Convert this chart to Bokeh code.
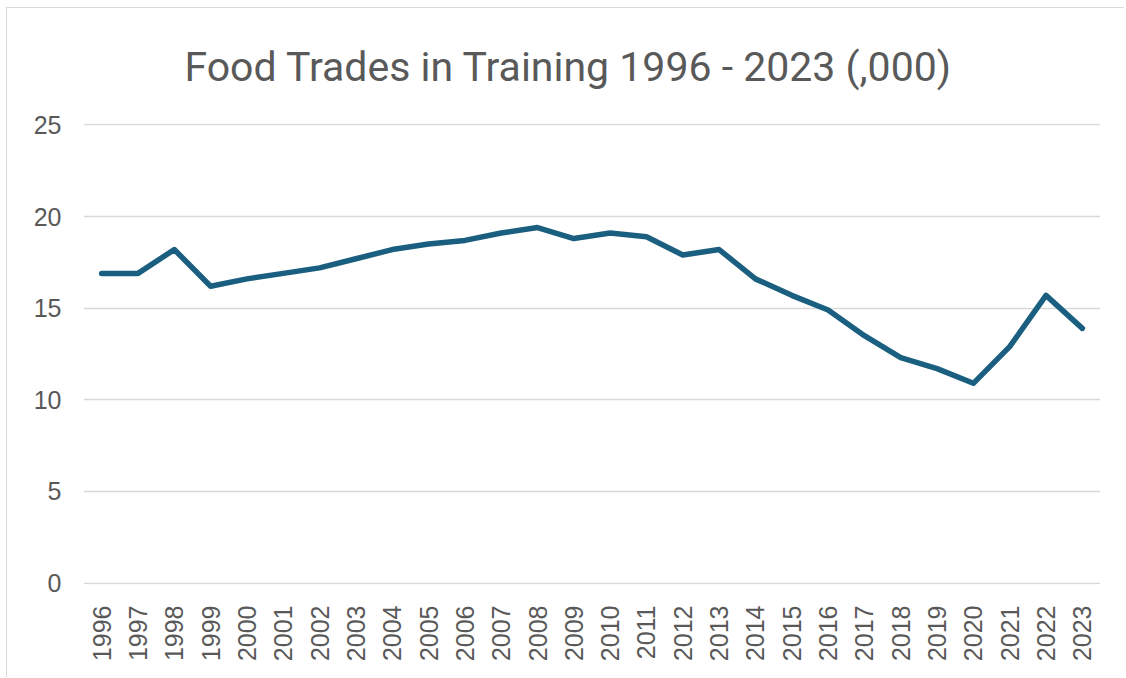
import math
from bokeh.plotting import figure
from bokeh.models import FixedTicker, Range1d, FactorRange, Title
from bokeh.embed import file_html
from bokeh.resources import INLINE

years = [str(y) for y in range(1996, 2024)]
trainees = [16.9, 16.9, 18.2, 16.2, 16.6, 16.9, 17.2, 17.7, 18.2, 18.5,
            18.7, 19.1, 19.4, 18.8, 19.1, 18.9, 17.9, 18.2, 16.6, 15.7,
            14.9, 13.5, 12.3, 11.7, 10.9, 12.9, 15.7, 13.9]
y_ticks = [0, 5, 10, 15, 20, 25]
title_text = "Food Trades in Training 1996 - 2023 (,000)"

p = figure(width=1118, height=670, x_range=FactorRange(*years),
           y_range=Range1d(-0.08, 25.08), output_backend="svg", toolbar_location=None,
           min_border_left=76, min_border_right=25, min_border_bottom=94,
           min_border_top=115)

t = Title(text=title_text, align="left", offset=101, text_font="Roboto",
          text_font_size="41px", text_font_style="normal", text_color="#595959",
          standoff=62, vertical_align="top", text_line_height=0.8)
p.add_layout(t, "above")

p.line(years, trainees, line_color="#1b5f80", line_width=5.5, line_join="round",
       line_cap="round")

p.outline_line_color = None
p.xgrid.grid_line_color = None
p.ygrid.grid_line_color = "#d9d9d9"
p.ygrid.grid_line_width = 1.5
p.yaxis.ticker = FixedTicker(ticks=y_ticks)
for ax in (p.xaxis[0], p.yaxis[0]):
    ax.axis_line_color = None
    ax.major_tick_line_color = None
    ax.minor_tick_line_color = None
    ax.major_label_text_color = "#595959"
    ax.major_label_text_font = "Liberation Sans"
    ax.major_label_text_font_size = "25px"
p.yaxis.major_label_standoff = 16
p.xaxis.major_label_orientation = math.pi / 2
p.xaxis.major_label_standoff = 15
p.styles = {"margin-left": "6px", "margin-top": "7px",
            "border-top": "1.5px solid #d9d9d9", "border-left": "1.5px solid #d9d9d9"}

open("out.html", "w").write(file_html(p, INLINE))
